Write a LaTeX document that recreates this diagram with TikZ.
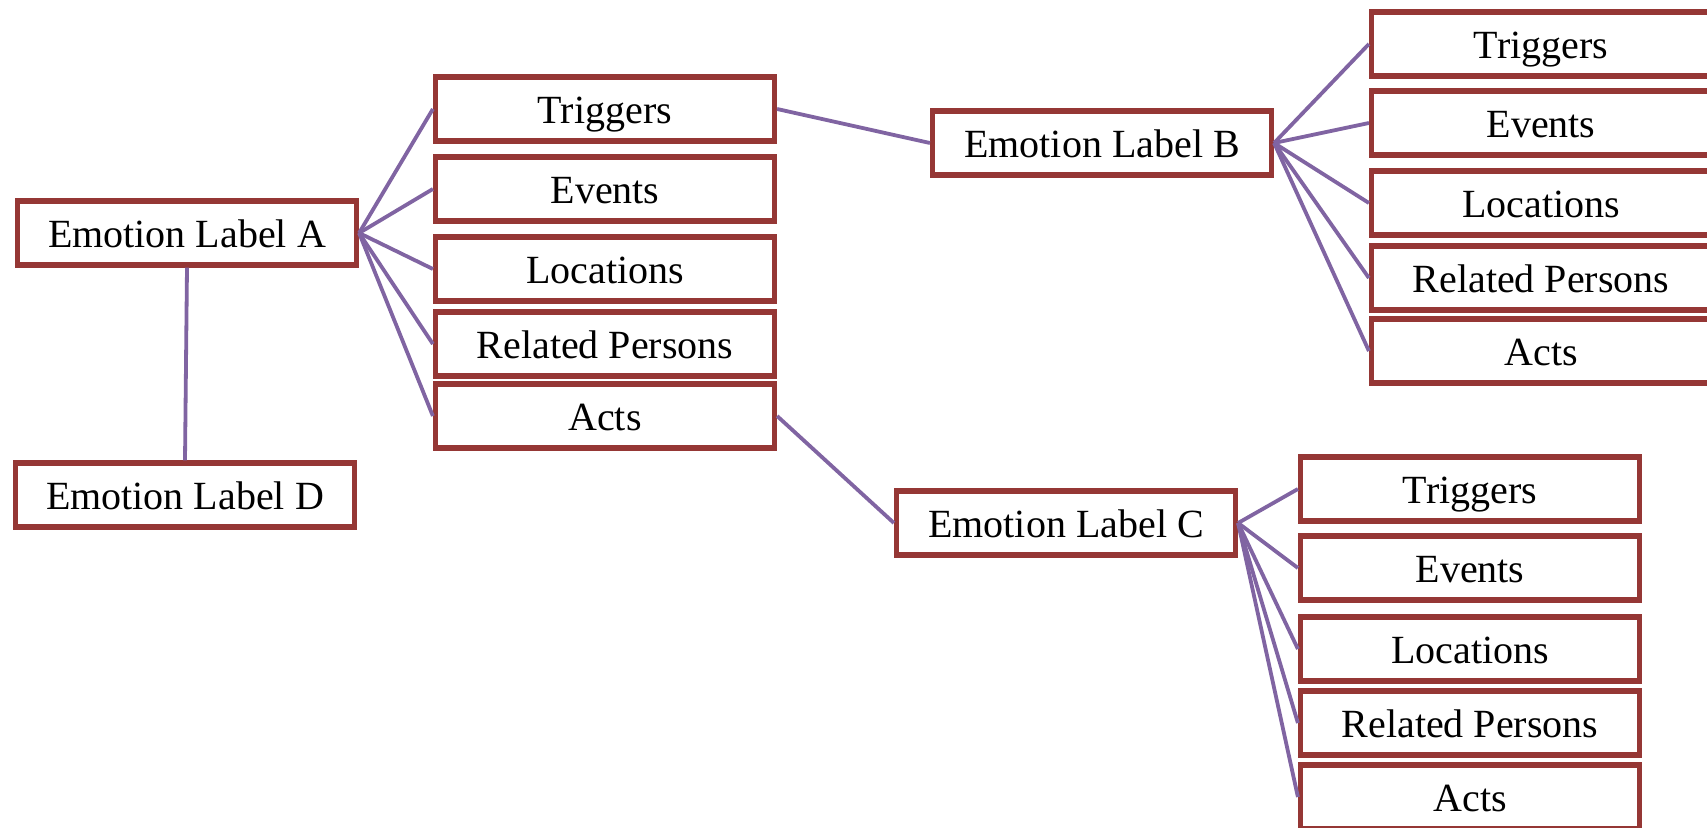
\documentclass[tikz,border=0pt]{standalone}
\usepackage{fontspec}
\setmainfont{Liberation Serif}
\definecolor{boxred}{HTML}{953735}
\definecolor{linkpurple}{HTML}{8064A2}
\tikzset{
  box/.style={draw=boxred, line width=2.6pt, fill=white, inner sep=0pt,
    minimum width=169.5pt, minimum height=32pt, text height=16.5pt, text depth=2pt,
    font=\fontsize{20}{24}\selectfont},
  link/.style={draw=linkpurple, line width=1.9pt}
}

\begin{document}
\begin{tikzpicture}[x=0.5pt, y=-0.5pt]
\clip (0,0) rectangle (1707,828);
\node[box] (a) at (187,233) {Emotion Label A};
\node[box] (d) at (185,495) {Emotion Label D};
\node[box] (ta) at (605,109) {Triggers};
\node[box] (ea) at (605,189) {Events};
\node[box] (la) at (605,269) {Locations};
\node[box] (ra) at (605,344) {Related Persons};
\node[box] (aa) at (605,416) {Acts};
\node[box] (b) at (1102,143) {Emotion Label B};
\node[box] (tb) at (1541,44) {Triggers};
\node[box] (eb) at (1541,123) {Events};
\node[box] (lb) at (1541,203) {Locations};
\node[box] (rb) at (1541,278) {Related Persons};
\node[box] (ab) at (1541,351) {Acts};
\node[box] (c) at (1066,523) {Emotion Label C};
\node[box] (tc) at (1470,489) {Triggers};
\node[box] (ec) at (1470,568) {Events};
\node[box] (lc) at (1470,649) {Locations};
\node[box] (rc) at (1470,723) {Related Persons};
\node[box] (ac) at (1470,797) {Acts};
% A and its links
\draw[link] (a.south)--(d.north);
\draw[link] (a.east)--(ta.west);
\draw[link] (a.east)--(ea.west);
\draw[link] (a.east)--(la.west);
\draw[link] (a.east)--(ra.west);
\draw[link] (a.east)--(aa.west);
\draw[link] (ta.east)--(b.west);
\draw[link] (aa.east)--(c.west);
% B:
\draw[link] (b.east)--(tb.west);
\draw[link] (b.east)--(eb.west);
\draw[link] (b.east)--(lb.west);
\draw[link] (b.east)--(rb.west);
\draw[link] (b.east)--(ab.west);
% C:
\draw[link] (c.east)--(tc.west);
\draw[link] (c.east)--(ec.west);
\draw[link] (c.east)--(lc.west);
\draw[link] (c.east)--(rc.west);
\draw[link] (c.east)--(ac.west);
\end{tikzpicture}
\end{document}
